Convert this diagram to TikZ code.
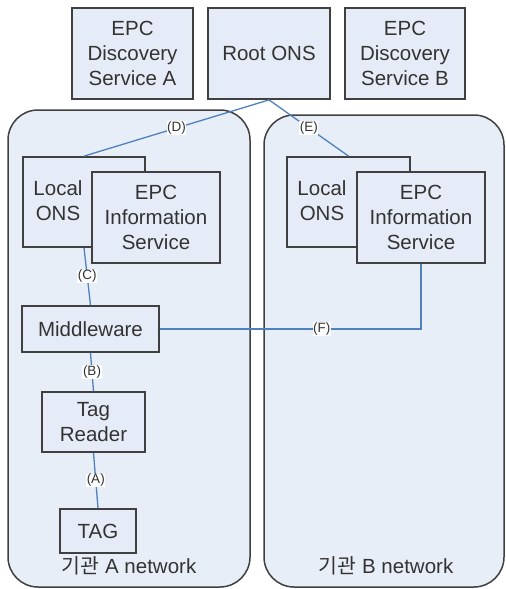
\documentclass[tikz,border=0pt]{standalone}
\usepackage{fontspec}
\setmainfont{Liberation Sans}
\newfontfamily\krfont{Noto Sans CJK KR}
\definecolor{boxfill}{HTML}{E6ECF7}
\definecolor{netfill}{HTML}{E8EEF8}
\definecolor{boxline}{HTML}{404040}
\definecolor{txt}{HTML}{333333}
\definecolor{linkblue}{HTML}{4F81BD}
\tikzset{
  box/.style={draw=boxline, line width=1.8pt, fill=boxfill, text=txt, align=center,
    inner sep=0pt, font=\fontsize{20.5}{25}\selectfont},
  net/.style={draw=boxline, line width=1.5pt, fill=netfill, rounded corners=30pt, inner sep=0pt},
  link/.style={draw=linkblue, line width=1.3pt},
  lab/.style={fill=white, inner sep=0.6pt, text=txt, font=\fontsize{13.5}{14}\selectfont},
  plain/.style={text=txt, align=center, inner sep=0pt, font=\fontsize{20.5}{25}\selectfont},
}
\begin{document}
\begin{tikzpicture}[x=1pt,y=-1pt]
\useasboundingbox (0,0) rectangle (506,589);
% networks
\node[net, minimum width=242, minimum height=477] (netA) at (129,348.5) {};
\node[net, minimum width=240, minimum height=472] (netB) at (384,351) {};
% top boxes
\node[box, minimum width=121, minimum height=91] (dsa) at (132.5,53.5) {EPC\\Discovery\\Service A};
\node[box, minimum width=122, minimum height=91] (root) at (269,53.5) {Root ONS};
\node[box, minimum width=120, minimum height=91] (dsb) at (405,53.5) {EPC\\Discovery\\Service B};
% network A
\node[box, minimum width=122, minimum height=90] (lonsA) at (84,202) {};
\node[plain] (lonsAt) at (58,201) {Local\\ONS};
\node[box, minimum width=128, minimum height=91] (episA) at (156,217.5) {EPC\\Information\\Service};
\node[box, minimum width=137, minimum height=46] (mw) at (90.5,329) {Middleware};
\node[box, minimum width=103, minimum height=60] (tr) at (93.5,422) {Tag\\Reader};
\node[box, minimum width=76, minimum height=44] (tag) at (98,531) {TAG};
% network B
\node[box, minimum width=123, minimum height=90] (lonsB) at (348.5,202) {};
\node[plain] (lonsBt) at (322,201) {Local\\ONS};
\node[box, minimum width=128, minimum height=91] (episB) at (421,217.5) {EPC\\Information\\Service};
% network labels
\node[plain] (netAl) at (129,566) {{\krfont 기관} A network};
\node[plain] (netBl) at (386,566) {{\krfont 기관} B network};
% links
\draw[link] (root.south) -- node[lab] {(D)} (lonsA.north);
\draw[link] (root.south) -- node[lab] {(E)} (lonsB.north);
\draw[link] (lonsA.south) -- node[lab] {(C)} (mw.north);
\draw[link] (mw.south) -- node[lab] {(B)} (tr.north);
\draw[link] (tr.south) -- node[lab] {(A)} (tag.north);
\draw[link, line width=2pt] (mw.east) -| node[lab, pos=0.31] {(F)} (episB.south);
\end{tikzpicture}
\end{document}
